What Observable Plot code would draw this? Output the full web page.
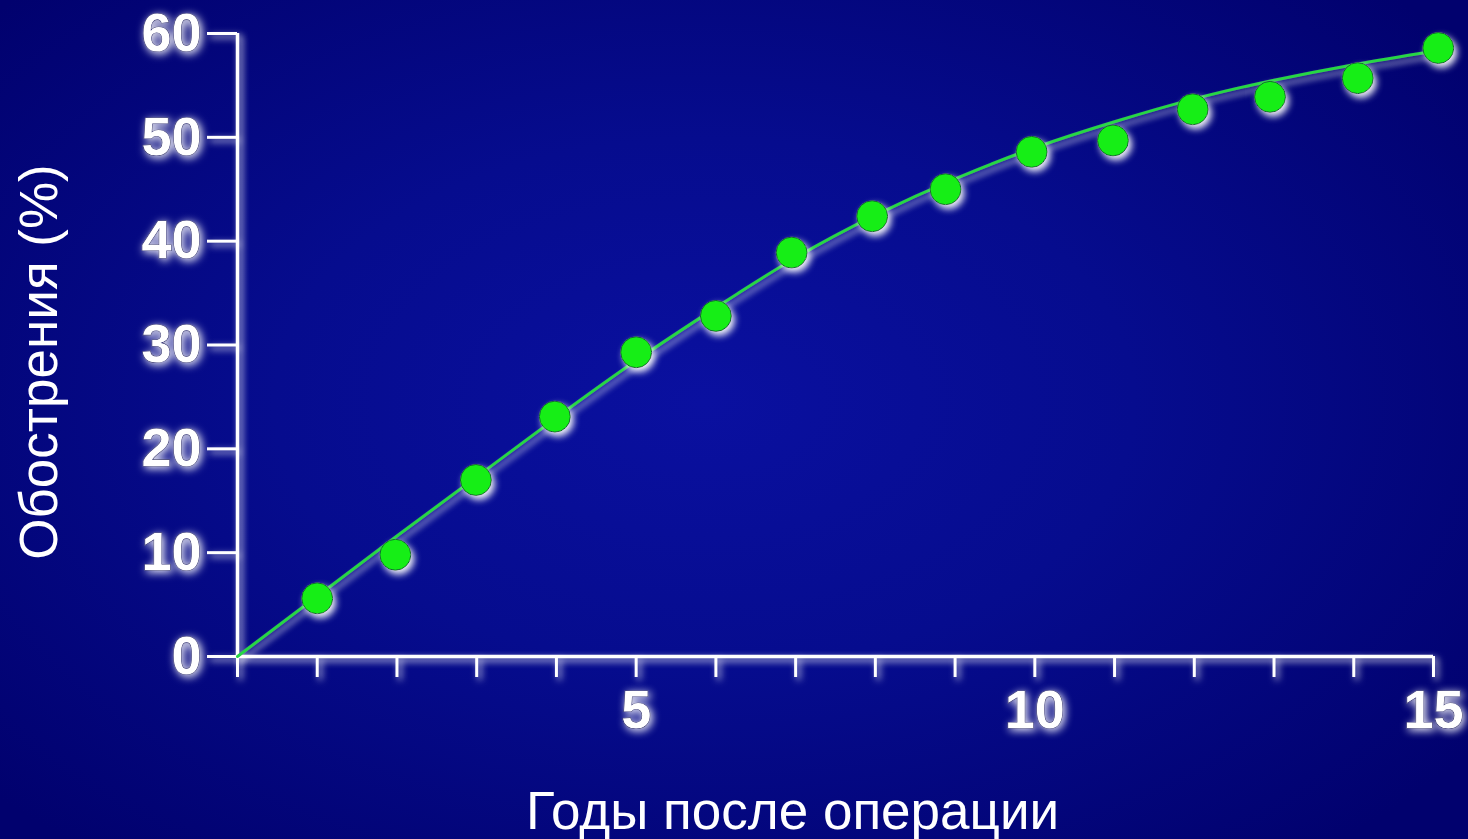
<!DOCTYPE html>
<html>
<head>
<meta charset="utf-8">
<script src="https://cdn.jsdelivr.net/npm/d3@7"></script>
<script src="https://cdn.jsdelivr.net/npm/@observablehq/plot@0.6"></script>
<style>
  html, body { margin: 0; padding: 0; background: #000070; overflow: hidden; }
  #chart {
    width: 1468px; height: 839px;
    background: radial-gradient(ellipse 65% 70% at 48% 48%, #0a10a0 0%, #060c8e 45%, #01016e 100%);
  }
  #chart svg { display: block; }
</style>
</head>
<body>
<div id="chart"></div>
<script>
// ---- data ----
const pointYears = [1, 1.98, 2.99, 3.98, 5.0, 6.0, 6.95, 7.96, 8.88, 9.96, 10.98, 11.98, 12.95, 14.05, 15.06];
const pointRates = [5.6, 9.8, 17.0, 23.1, 29.3, 32.8, 38.9, 42.4, 45.0, 48.6, 49.7, 52.7, 53.9, 55.7, 58.6];

const fitYears = [0, 1, 2, 3, 4, 5, 6, 7, 8, 9, 10, 11, 12, 13, 14, 15];
const fitRates = [0, 5.8, 11.6, 17.3, 23.0, 28.5, 33.6, 38.4, 42.5, 46.0, 49.0, 51.5, 53.7, 55.5, 57.0, 58.3];

const yTicks = [0, 10, 20, 30, 40, 50, 60];
const xTicks = [0, 1, 2, 3, 4, 5, 6, 7, 8, 9, 10, 11, 12, 13, 14, 15];
const xTickLabels = [5, 10, 15];

const xTitle = "Годы после операции";
const yTitle = "Обострения (%)";

// ---- tables ----
const points = pointYears.map((x, i) => ({ x, y: pointRates[i] }));
const fit = fitYears.map((x, i) => ({ x, y: fitRates[i] }));

const font = "'Liberation Sans', Arial, Helvetica, sans-serif";

const chart = Plot.plot({
  width: 1468,
  height: 839,
  marginLeft: 237,
  marginRight: 35,
  marginTop: 33,
  marginBottom: 183,
  style: { background: "transparent", color: "white", fontFamily: font, overflow: "visible" },
  x: { domain: [0, 15] },
  y: { domain: [0, 60] },
  marks: [
    Plot.axisY({
      ticks: yTicks, tickSize: 30, tickPadding: 6, strokeWidth: 3,
      fontSize: 54, fontWeight: "bold", color: "white", label: null
    }),
    Plot.axisX({
      ticks: xTicks, tickSize: 21, tickPadding: 12, strokeWidth: 3,
      tickFormat: d => xTickLabels.includes(d) ? String(d) : "",
      fontSize: 54, fontWeight: "bold", color: "white", label: null
    }),
    Plot.ruleY([0], { stroke: "white", strokeWidth: 3.5 }),
    Plot.ruleX([0], { stroke: "white", strokeWidth: 3.5 }),
    Plot.line(fit, { x: "x", y: "y", curve: "natural", stroke: "#25d645", strokeWidth: 3 }),
    Plot.dot(points, { x: "x", y: "y", r: 15.5, fill: "#12ee12", stroke: "#0b6a30", strokeWidth: 1 }),
    Plot.text([xTitle], { frameAnchor: "bottom", textAnchor: "middle", dx: -43, dy: 156, fontSize: 53, fill: "white", lineAnchor: "middle" }),
    Plot.text([yTitle], { frameAnchor: "left", textAnchor: "middle", rotate: -90, dx: -197, dy: 17, fontSize: 53, fill: "white", lineAnchor: "middle" })
  ]
});

document.getElementById("chart").appendChild(chart);

// ---- glow filters ----
const svg = d3.select(chart);
const defs = svg.insert("defs", ":first-child");
function glow(id, dx, dy, sd, opacity) {
  const f = defs.append("filter").attr("id", id)
    .attr("filterUnits", "userSpaceOnUse")
    .attr("x", 0).attr("y", 0).attr("width", 1468).attr("height", 839);
  f.append("feGaussianBlur").attr("in", "SourceAlpha").attr("stdDeviation", sd).attr("result", "b");
  f.append("feOffset").attr("in", "b").attr("dx", dx).attr("dy", dy).attr("result", "o");
  f.append("feFlood").attr("flood-color", "#ffffff").attr("flood-opacity", opacity);
  f.append("feComposite").attr("in2", "o").attr("operator", "in").attr("result", "s");
  const m = f.append("feMerge");
  m.append("feMergeNode").attr("in", "s");
  m.append("feMergeNode").attr("in", "SourceGraphic");
}
glow("glowDot", 3, 4, 3.5, 0.95);
glow("glowLine", 2, 5, 3, 0.7);
glow("glowAxis", 3, 3, 3.5, 0.85);
glow("glowText", 2, 2, 4.5, 1);

svg.selectAll('[aria-label="dot"]').attr("filter", "url(#glowDot)");
svg.selectAll('[aria-label="line"]').attr("filter", "url(#glowLine)");
svg.selectAll('[aria-label="rule"], [aria-label="y-axis tick"], [aria-label="x-axis tick"]').attr("filter", "url(#glowAxis)");
svg.selectAll('[aria-label="y-axis tick label"], [aria-label="x-axis tick label"]')
  .attr("filter", "url(#glowText)")
  .attr("stroke", "#20206a").attr("stroke-width", 1.2).attr("paint-order", "stroke");
</script>
</body>
</html>
